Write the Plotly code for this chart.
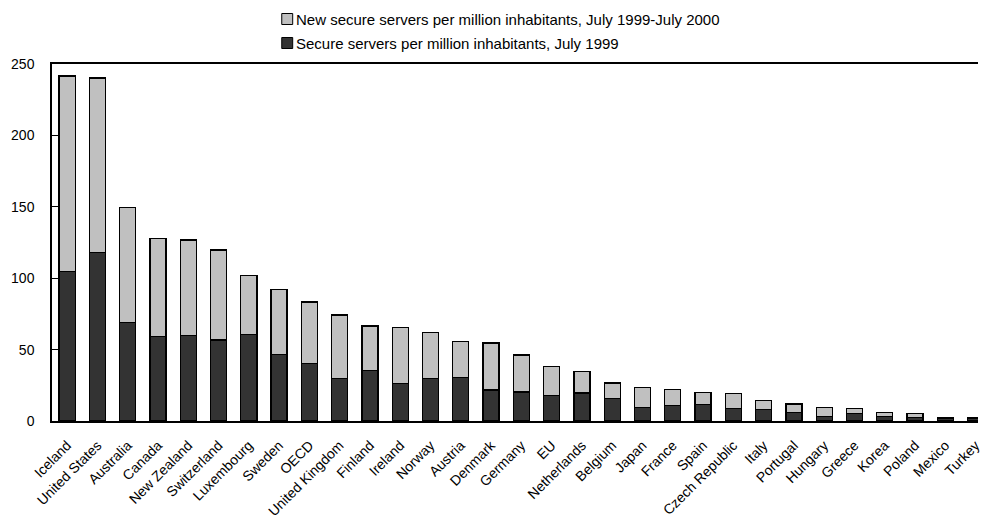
import plotly.graph_objects as go

# Secure servers per million inhabitants (OECD countries)
countries = [
    "Iceland", "United States", "Australia", "Canada", "New Zealand",
    "Switzerland", "Luxembourg", "Sweden", "OECD", "United Kingdom",
    "Finland", "Ireland", "Norway", "Austria", "Denmark", "Germany", "EU",
    "Netherlands", "Belgium", "Japan", "France", "Spain", "Czech Republic",
    "Italy", "Portugal", "Hungary", "Greece", "Korea", "Poland", "Mexico",
    "Turkey",
]
servers_july_1999 = [
    104.8, 117.9, 69.1, 59.3, 60.0, 56.7, 60.7, 46.4, 40.4, 29.9,
    35.2, 26.4, 29.6, 30.3, 21.7, 20.3, 17.7, 19.6, 15.9, 9.3,
    10.7, 11.7, 8.9, 8.2, 6.1, 3.0, 5.1, 3.0, 2.6, 2.0, 1.9,
]
new_servers_1999_2000 = [
    136.8, 122.3, 80.3, 68.6, 66.8, 63.0, 41.1, 45.6, 42.9, 44.3,
    31.3, 39.2, 32.2, 25.2, 32.9, 25.9, 20.3, 14.9, 10.7, 14.0,
    11.5, 8.1, 10.4, 6.0, 5.8, 6.3, 3.5, 2.8, 2.8, 0.4, 0.3,
]
y_ticks = [0, 50, 100, 150, 200, 250]

label_new = "New secure servers per million inhabitants, July 1999-July 2000"
label_1999 = "Secure servers per million inhabitants, July 1999"

DARK = "#333333"
LIGHT = "#c0c0c0"
FONT = "Arial, Liberation Sans, sans-serif"

W, H = 983, 519
ML, MR, MT, MB = 52, 0, 64, 98
plot_w = W - ML - MR
plot_h = H - MT - MB


def px_x(px):
    return (px - ML) / plot_w


def px_y(py):
    return (H - MB - py) / plot_h


fig = go.Figure()
fig.add_trace(go.Bar(
    x=countries, y=servers_july_1999, name=label_1999,
    marker=dict(color=DARK, line=dict(color="#000000", width=1.3)),
))
fig.add_trace(go.Bar(
    x=countries, y=new_servers_1999_2000, name=label_new,
    marker=dict(color=LIGHT, line=dict(color="#000000", width=1.3)),
))

# Legend drawn as swatches + text above the plot
legend_rows = [(label_new, LIGHT, 19), (label_1999, DARK, 43)]
for text, color, cy in legend_rows:
    fig.add_shape(
        type="rect", xref="paper", yref="paper",
        x0=px_x(283), x1=px_x(294), y0=px_y(cy + 5.5), y1=px_y(cy - 5.5),
        fillcolor=color, line=dict(color="#000000", width=1),
    )
    fig.add_annotation(
        xref="paper", yref="paper", x=px_x(295), y=px_y(cy),
        text=text, showarrow=False, xanchor="left", yanchor="middle",
        font=dict(family=FONT, size=15, color="#000000"),
    )

fig.update_layout(
    width=W, height=H,
    margin=dict(l=ML, r=MR, t=MT, b=MB, pad=0),
    barmode="stack", bargap=0.47,
    showlegend=False,
    plot_bgcolor="#ffffff", paper_bgcolor="#ffffff",
    font=dict(family=FONT, color="#000000"),
)
fig.update_xaxes(
    range=[-0.5, 30.08], tickangle=-45,
    tickfont=dict(family=FONT, size=14, color="#000000"),
    showline=True, linecolor="#000000", linewidth=1.5, mirror=True,
    showgrid=False, ticks="", zeroline=False,
    ticklabelstandoff=9,
)
fig.update_yaxes(
    range=[0, 250], tickvals=y_ticks,
    tickfont=dict(family=FONT, size=14, color="#000000"),
    showline=True, linecolor="#000000", linewidth=1.5,
    ticks="inside", ticklen=6, tickcolor="#000000", tickwidth=1,
    ticklabelstandoff=13,
    showgrid=False, zeroline=False,
)

fig.write_html("out.html")
